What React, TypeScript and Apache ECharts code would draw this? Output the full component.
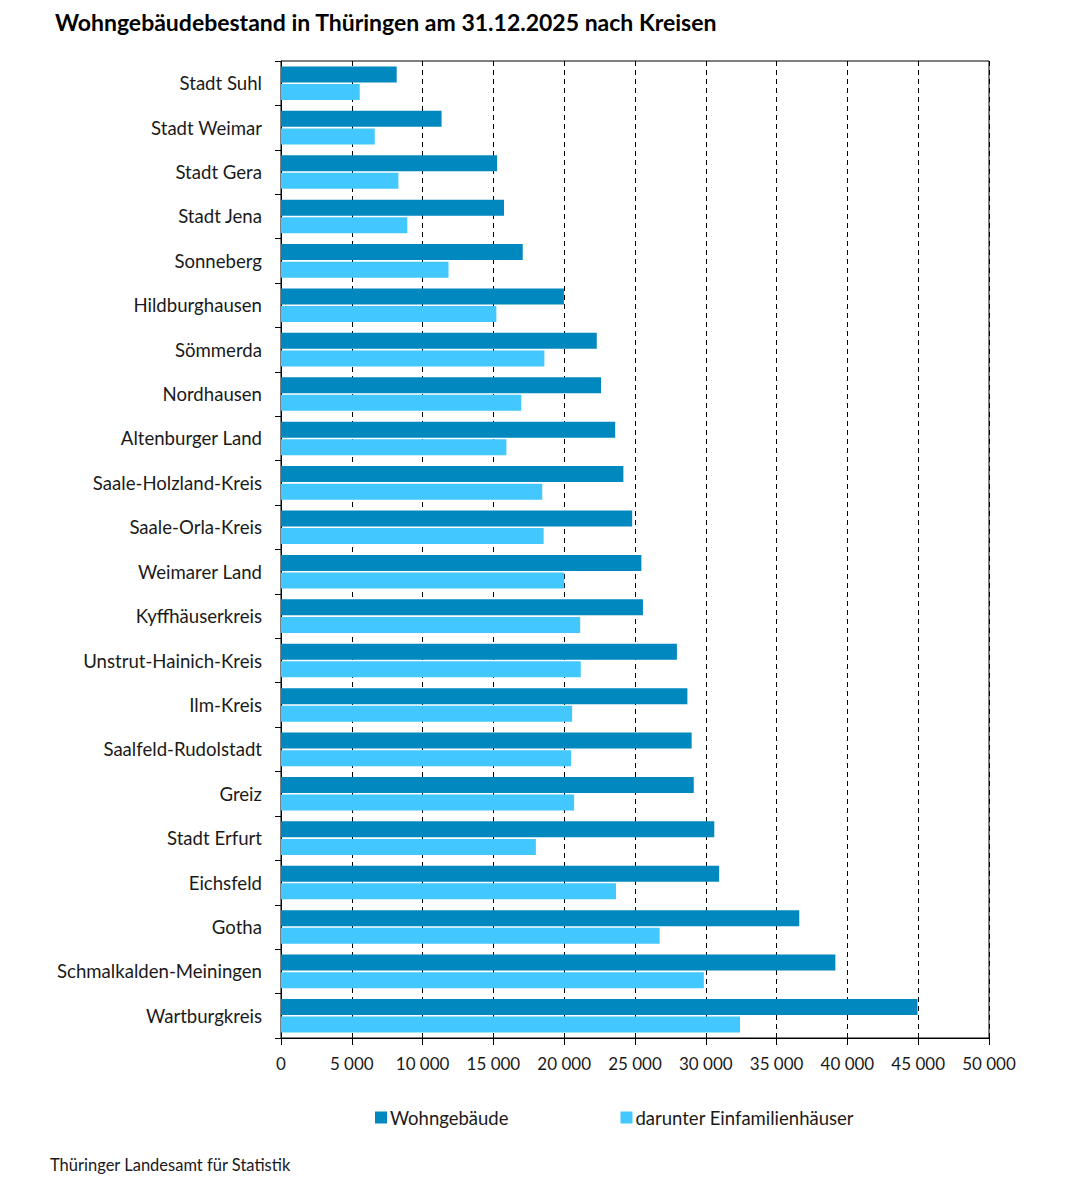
import React, { useEffect, useRef } from "react";
import * as echarts from "echarts";

const categories = [
  "Stadt Suhl", "Stadt Weimar", "Stadt Gera", "Stadt Jena", "Sonneberg", "Hildburghausen",
  "Sömmerda", "Nordhausen", "Altenburger Land", "Saale-Holzland-Kreis", "Saale-Orla-Kreis",
  "Weimarer Land", "Kyffhäuserkreis", "Unstrut-Hainich-Kreis", "Ilm-Kreis", "Saalfeld-Rudolstadt",
  "Greiz", "Stadt Erfurt", "Eichsfeld", "Gotha", "Schmalkalden-Meiningen", "Wartburgkreis",
];
const wohngebaeude = [
  8170, 11340, 15260, 15750, 17070, 19980, 22300, 22600, 23600, 24180, 24800,
  25450, 25560, 27960, 28700, 29000, 29150, 30600, 30940, 36600, 39150, 44950,
];
const einfamilienhaeuser = [
  5560, 6620, 8290, 8920, 11830, 15210, 18600, 16970, 15920, 18450, 18550,
  20000, 21130, 21170, 20560, 20490, 20700, 18000, 23660, 26740, 29860, 32420,
];
const seriesNames = ["Wohngebäude", "darunter Einfamilienhäuser"];
const titleText = "Wohngebäudebestand in Thüringen am 31.12.2025 nach Kreisen";
const sourceText = "Thüringer Landesamt für Statistik";

const FONT = "Lato, 'Noto Sans', sans-serif";

export default function App() {
  const ref = useRef<HTMLDivElement>(null);
  useEffect(() => {
    document.body.style.margin = "0";
    const chart = echarts.init(ref.current!, null, { renderer: "svg" });
    chart.setOption({
      animation: false,
      backgroundColor: "#ffffff",
      textStyle: { fontFamily: FONT },
      title: {
        text: titleText,
        left: 55,
        top: 10,
        padding: 0,
        textStyle: { fontFamily: FONT, fontSize: 23, fontWeight: "bold", color: "#000" },
      },
      legend: {
        data: seriesNames,
        left: 375,
        top: 1108,
        padding: 0,
        icon: "rect",
        itemWidth: 12,
        itemHeight: 12,
        itemGap: 112,
        textStyle: { fontFamily: FONT, fontSize: 18.5, color: "#1a1a1a", padding: [0, 0, 0, -2] },
      },
      grid: {
        left: 281,
        top: 61,
        right: 86,
        bottom: 149,
        show: true,
        borderColor: "#000",
        borderWidth: 1,
        containLabel: false,
      },
      xAxis: {
        type: "value",
        min: 0,
        max: 50000,
        interval: 5000,
        axisLine: { show: true, lineStyle: { color: "#000", width: 1 } },
        axisTick: { show: true, length: 7, lineStyle: { color: "#000" } },
        axisLabel: {
          margin: 17,
          fontFamily: FONT,
          fontSize: 17,
          color: "#1a1a1a",
          formatter: (v: number) => String(v).replace(/\B(?=(\d{3})+(?!\d))/g, " "),
        },
        splitLine: { show: true, lineStyle: { color: "#000", type: [5, 4], width: 1 } },
      },
      yAxis: {
        type: "category",
        data: categories,
        inverse: true,
        axisLine: { show: true, lineStyle: { color: "#000", width: 1 } },
        axisTick: { show: true, length: 6, lineStyle: { color: "#000" } },
        axisLabel: { margin: 19, fontFamily: FONT, fontSize: 18.6, color: "#1a1a1a" },
        splitLine: { show: false },
      },
      series: [
        {
          name: seriesNames[0],
          type: "bar",
          data: wohngebaeude,
          barWidth: 16,
          barGap: "10%",
          itemStyle: { color: "#0088BF" },
        },
        {
          name: seriesNames[1],
          type: "bar",
          data: einfamilienhaeuser,
          barWidth: 16,
          barGap: "10%",
          itemStyle: { color: "#42C8FF" },
        },
      ],
      graphic: [
        {
          type: "text",
          left: 50,
          top: 1156,
          style: { text: sourceText, fontFamily: FONT, fontSize: 16.5, fill: "#1a1a1a" },
        },
      ],
    });
    return () => chart.dispose();
  }, []);
  return <div ref={ref} style={{ width: 1075, height: 1187 }} />;
}
